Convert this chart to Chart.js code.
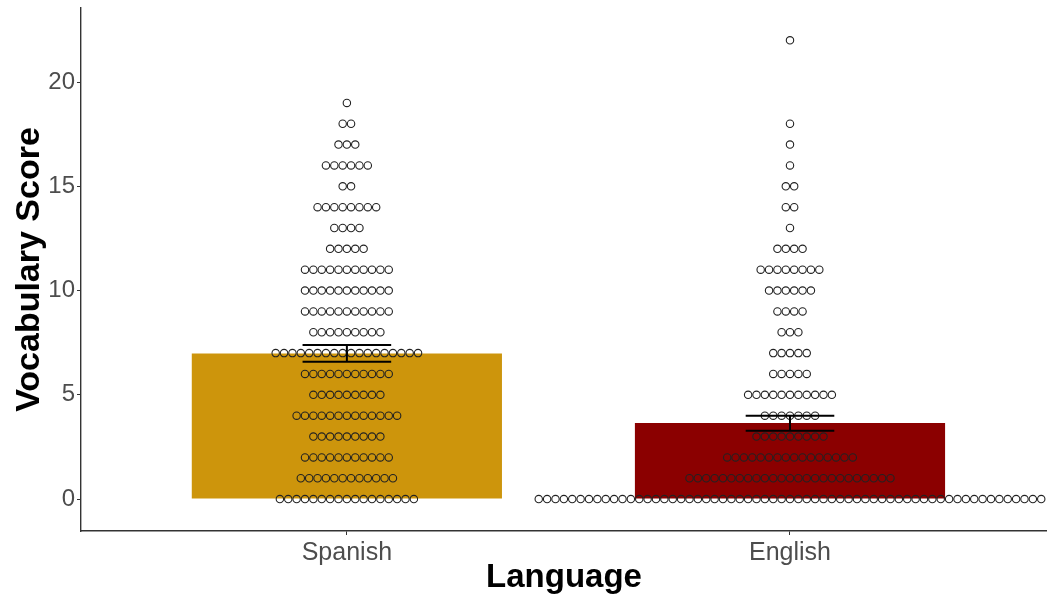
<!DOCTYPE html>
<html>
<head>
<meta charset="utf-8">
<script src="https://cdn.jsdelivr.net/npm/chart.js@4/dist/chart.umd.min.js"></script>
<style>
  html, body { margin: 0; padding: 0; background: #fff; overflow: hidden; }
  #wrap { position: relative; width: 1047px; height: 601px; }
  #vocabChart { display: block; }
</style>
</head>
<body>
<div id="wrap"><canvas id="vocabChart"></canvas></div>
<script>
// data
const categories = ['Spanish', 'English'];
const meanScores = [6.98, 3.65];
const errLow = [6.59, 3.28];
const errHigh = [7.39, 4.0];
const barColors = ['#CD950C', '#8B0000'];
const yTicks = [0, 5, 10, 15, 20];

// number of children at each score 0..22
const spanishCounts = [17, 12, 11, 9, 13, 9, 11, 18, 9, 11, 11, 11, 5, 4, 8, 2, 6, 3, 2, 1, 0, 0, 0];
const englishCounts = [61, 25, 16, 9, 7, 11, 5, 5, 3, 4, 6, 8, 4, 1, 2, 2, 1, 1, 1, 0, 0, 0, 1];

const dotStep = 0.0189; // dot spacing in x units (dots touch each other)

function dotPoints(center, counts) {
  const pts = [];
  counts.forEach(function(n, score) {
    for (let i = 0; i < n; i++) {
      pts.push({ x: center + (i - (n - 1) / 2) * dotStep, y: score });
    }
  });
  return pts;
}

// error bars drawn on top of everything
const errorBarPlugin = {
  id: 'errorBars',
  afterDatasetsDraw(chart) {
    const ctx = chart.ctx;
    const xs = chart.scales.x, ys = chart.scales.y;
    ctx.save();
    ctx.strokeStyle = '#000';
    ctx.lineWidth = 2;
    categories.forEach(function(c, i) {
      const xc = xs.getPixelForValue(i + 1);
      const xl = xs.getPixelForValue(i + 1 - 0.1);
      const xr = xs.getPixelForValue(i + 1 + 0.1);
      const yl = ys.getPixelForValue(errLow[i]);
      const yh = ys.getPixelForValue(errHigh[i]);
      ctx.beginPath();
      ctx.moveTo(xl, yh); ctx.lineTo(xr, yh);
      ctx.moveTo(xl, yl); ctx.lineTo(xr, yl);
      ctx.moveTo(xc, yl); ctx.lineTo(xc, yh);
      ctx.stroke();
    });
    ctx.restore();
  }
};

const FONT = '"Liberation Sans", Arial, sans-serif';

function noPadding(scale) {
  scale.paddingTop = 0;
  scale.paddingBottom = 0;
  scale.paddingLeft = 0;
  scale.paddingRight = 0;
}

const config = {
  type: 'bar',
  data: {
    datasets: [
      {
        type: 'bar',
        data: meanScores.map((m, i) => ({ x: i + 1, y: m })),
        backgroundColor: barColors,
        borderWidth: 0,
        categoryPercentage: 0.7,
        barPercentage: 1.0,
        order: 2
      },
      {
        type: 'scatter',
        data: dotPoints(1, spanishCounts).concat(dotPoints(2, englishCounts)),
        pointRadius: 3.7,
        pointBorderWidth: 1.1,
        pointBorderColor: '#222',
        pointBackgroundColor: 'rgba(0,0,0,0)',
        order: 1
      }
    ]
  },
  options: {
    responsive: true,
    maintainAspectRatio: false,
    animation: false,
    layout: { autoPadding: false, padding: { top: 8, right: 0, left: 0, bottom: 0 } },
    plugins: {
      legend: { display: false },
      tooltip: { enabled: false }
    },
    scales: {
      x: {
        type: 'linear',
        min: 0.4,
        max: 2.58,
        offset: false,
        afterBuildTicks: function(scale) {
          scale.ticks = categories.map((c, i) => ({ value: i + 1 }));
        },
        afterFit: function(scale) { scale.height = 70; noPadding(scale); },
        ticks: {
          callback: function(v) { return categories[v - 1]; },
          color: '#4d4d4d',
          font: { family: FONT, size: 25 },
          padding: 3,
          maxRotation: 0,
          autoSkip: false
        },
        grid: { offset: false, drawOnChartArea: false, drawTicks: true, tickLength: 4, color: '#333' },
        border: { display: true, color: '#333', width: 1.4 },
        title: {
          display: true,
          text: 'Language',
          color: '#000',
          font: { family: FONT, size: 33, weight: 'bold' },
          padding: { top: 0, bottom: 3 }
        }
      },
      y: {
        min: -1.53,
        max: 23.55,
        afterBuildTicks: function(scale) {
          scale.ticks = yTicks.map(v => ({ value: v }));
        },
        afterFit: function(scale) { scale.width = 81; noPadding(scale); },
        ticks: {
          color: '#4d4d4d',
          font: { family: FONT, size: 24 },
          padding: 2
        },
        grid: { offset: false, drawOnChartArea: false, drawTicks: true, tickLength: 4, color: '#333' },
        border: { display: true, color: '#333', width: 1.4 },
        title: {
          display: true,
          text: 'Vocabulary Score',
          color: '#000',
          font: { family: FONT, size: 34, weight: 'bold' },
          padding: { top: 9, bottom: 0 }
        }
      }
    }
  },
  plugins: [errorBarPlugin]
};

const vocabChart = new Chart(document.getElementById('vocabChart'), config);
</script>
</body>
</html>
